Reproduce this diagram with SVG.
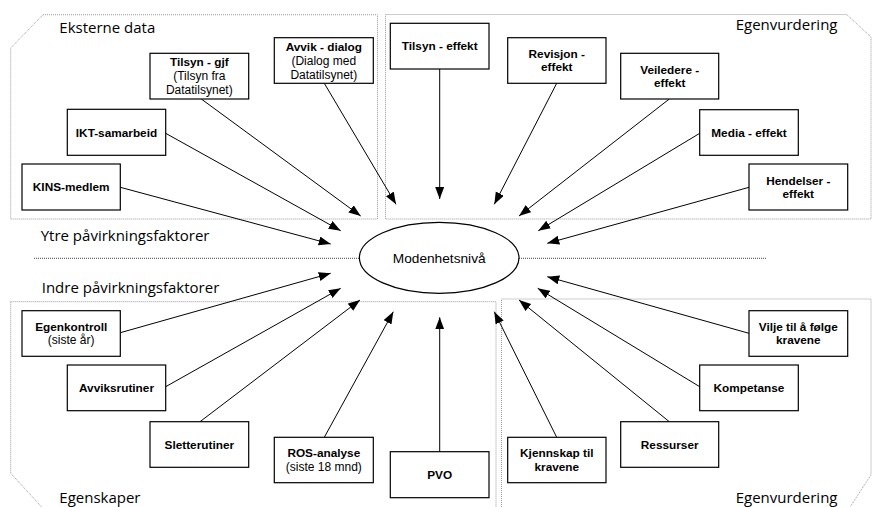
<svg xmlns="http://www.w3.org/2000/svg" width="872" height="507" viewBox="0 0 872 507">
<defs>
<marker id="ah" markerUnits="userSpaceOnUse" markerWidth="12" markerHeight="10" refX="12" refY="4.5" orient="auto">
<path d="M0,0 L12,4.5 L0,9 z" fill="#000"/>
</marker>
<style>
.region{fill:none;stroke:#9a9a9a;stroke-width:1;stroke-dasharray:1 1}
.mid{fill:none;stroke:#444;stroke-width:1;stroke-dasharray:1 1}
.box{fill:#fff;stroke:#000;stroke-width:1.2}
.b{font-family:"Liberation Sans",Arial,sans-serif;font-size:11.8px;font-weight:bold;text-anchor:middle;fill:#000}
.n{font-family:"Liberation Sans",Arial,sans-serif;font-size:12px;text-anchor:middle;fill:#000}
.sec{font-family:"Open Sans","Liberation Sans",sans-serif;font-size:15px;fill:#000}
.conn line{stroke:#000;stroke-width:1;marker-end:url(#ah)}
</style>
</defs>
<rect width="872" height="507" fill="#fff"/>

<g id="regions">
<path class="region" d="M43,14.7 L377.5,14.7 L377.5,219 L10.7,219 L10.7,48 Z"/>
<path class="region" d="M385.5,14.5 L846.7,14.5 L871,37 L871,219 L385.5,219 Z"/>
<path class="region" d="M10.7,301.7 L496,301.7 L496,507 M10.7,301.7 L10.7,473.3 L41.7,507"/>
<path class="region" d="M501.5,507 L501.5,299 L871,299 L871,475 L850,507"/>
</g>

<g id="midline">
<line class="mid" x1="34" y1="258.3" x2="359.3" y2="258.3"/>
<line class="mid" x1="519" y1="258.3" x2="766.7" y2="258.3"/>
</g>

<g id="labels">
<text class="sec" x="59.3" y="33.3">Eksterne data</text>
<text class="sec" x="735.7" y="30">Egenvurdering</text>
<text class="sec" x="40.7" y="240.7">Ytre påvirkningsfaktorer</text>
<text class="sec" x="41.7" y="293.3">Indre påvirkningsfaktorer</text>
<text class="sec" x="59.3" y="503.3">Egenskaper</text>
<text class="sec" x="735.7" y="503.3">Egenvurdering</text>
</g>

<g class="conn" id="connectors">
<line x1="120.3" y1="187.3" x2="330.7" y2="244"/>
<line x1="165.7" y1="133.3" x2="340.7" y2="230.7"/>
<line x1="201.3" y1="99" x2="360.7" y2="216"/>
<line x1="324.3" y1="83.3" x2="396" y2="204.3"/>
<line x1="439.7" y1="69" x2="439.7" y2="199"/>
<line x1="556.7" y1="83.3" x2="494.3" y2="204.3"/>
<line x1="669.3" y1="99" x2="519" y2="216"/>
<line x1="699.7" y1="133.3" x2="538.3" y2="230.7"/>
<line x1="749" y1="187.3" x2="547.3" y2="243.3"/>
<line x1="120.3" y1="332.7" x2="330.7" y2="273.3"/>
<line x1="165.7" y1="386.7" x2="340.7" y2="288.3"/>
<line x1="200" y1="421.7" x2="360" y2="300"/>
<line x1="324.3" y1="437.3" x2="393.3" y2="311.7"/>
<line x1="439.7" y1="451.7" x2="439.7" y2="317.3"/>
<line x1="556.7" y1="437.3" x2="494.3" y2="311.7"/>
<line x1="669.3" y1="421.7" x2="519" y2="300"/>
<line x1="699.7" y1="386.7" x2="537.7" y2="288.3"/>
<line x1="749" y1="333.3" x2="547.3" y2="276.7"/>
</g>

<g id="center">
<ellipse cx="439.2" cy="257.8" rx="79.8" ry="35.5" fill="#fff" stroke="#000" stroke-width="1.2"/>
<text class="n" x="439.2" y="262.5" style="font-size:13.7px">Modenhetsnivå</text>
</g>

<g id="tilsyn-gjf"><rect class="box" x="150" y="53.3" width="98.7" height="45.7"/>
<text class="b" x="199.3" y="66.4">Tilsyn - gjf</text><text class="n" x="199.3" y="80.4">(Tilsyn fra</text><text class="n" x="199.3" y="94.4">Datatilsynet)</text></g>
<g id="avvik-dialog"><rect class="box" x="274.3" y="37.7" width="99" height="45.6"/>
<text class="b" x="323.8" y="50.7">Avvik - dialog</text><text class="n" x="323.8" y="64.7">(Dialog med</text><text class="n" x="323.8" y="78.7">Datatilsynet)</text></g>
<g id="ikt"><rect class="box" x="67.3" y="109.3" width="98.4" height="46"/>
<text class="b" x="116.5" y="136.5">IKT-samarbeid</text></g>
<g id="kins"><rect class="box" x="22" y="164" width="98.3" height="46"/>
<text class="b" x="71.2" y="191.2">KINS-medlem</text></g>
<g id="tilsyn-effekt"><rect class="box" x="390.3" y="23.3" width="98.7" height="45.7"/>
<text class="b" x="439.7" y="50.2">Tilsyn - effekt</text></g>
<g id="revisjon"><rect class="box" x="507.7" y="37.7" width="98.3" height="45.6"/>
<text class="b" x="556.8" y="58.2">Revisjon -</text><text class="b" x="556.8" y="71.2">effekt</text></g>
<g id="veiledere"><rect class="box" x="620.7" y="53.3" width="98" height="45.7"/>
<text class="b" x="669.7" y="74.4">Veiledere -</text><text class="b" x="669.7" y="87.4">effekt</text></g>
<g id="media"><rect class="box" x="699.7" y="109.7" width="98.6" height="45.6"/>
<text class="b" x="749" y="136.7">Media - effekt</text></g>
<g id="hendelser"><rect class="box" x="749" y="164" width="98.7" height="46"/>
<text class="b" x="798.3" y="184.7">Hendelser -</text><text class="b" x="798.3" y="197.7">effekt</text></g>

<g id="egenkontroll"><rect class="box" x="22" y="310.7" width="98.3" height="45.6"/>
<text class="b" x="71.2" y="331.2">Egenkontroll</text><text class="n" x="71.2" y="344.2">(siste år)</text></g>
<g id="avviksrutiner"><rect class="box" x="67.3" y="365" width="98.4" height="45.7"/>
<text class="b" x="116.5" y="392">Avviksrutiner</text></g>
<g id="sletterutiner"><rect class="box" x="150" y="421.7" width="98.7" height="45.6"/>
<text class="b" x="199.3" y="448.7">Sletterutiner</text></g>
<g id="ros"><rect class="box" x="274.3" y="437.3" width="99" height="45.4"/>
<text class="b" x="323.8" y="457.2">ROS-analyse</text><text class="n" x="323.8" y="470.5">(siste 18 mnd)</text></g>
<g id="pvo"><rect class="box" x="390.3" y="451.7" width="98.7" height="46"/>
<text class="b" x="439.7" y="478.9">PVO</text></g>
<g id="kjennskap"><rect class="box" x="507.7" y="437.3" width="98.3" height="45.4"/>
<text class="b" x="556.8" y="457.2">Kjennskap til</text><text class="b" x="556.8" y="470.5">kravene</text></g>
<g id="ressurser"><rect class="box" x="620.7" y="421.7" width="98" height="45.6"/>
<text class="b" x="669.7" y="448.7">Ressurser</text></g>
<g id="kompetanse"><rect class="box" x="699.7" y="365" width="98.6" height="45.7"/>
<text class="b" x="749" y="392">Kompetanse</text></g>
<g id="vilje"><rect class="box" x="749" y="310.7" width="98.7" height="45.6"/>
<text class="b" x="798.3" y="331.2">Vilje til å følge</text><text class="b" x="798.3" y="344.2">kravene</text></g>
</svg>
